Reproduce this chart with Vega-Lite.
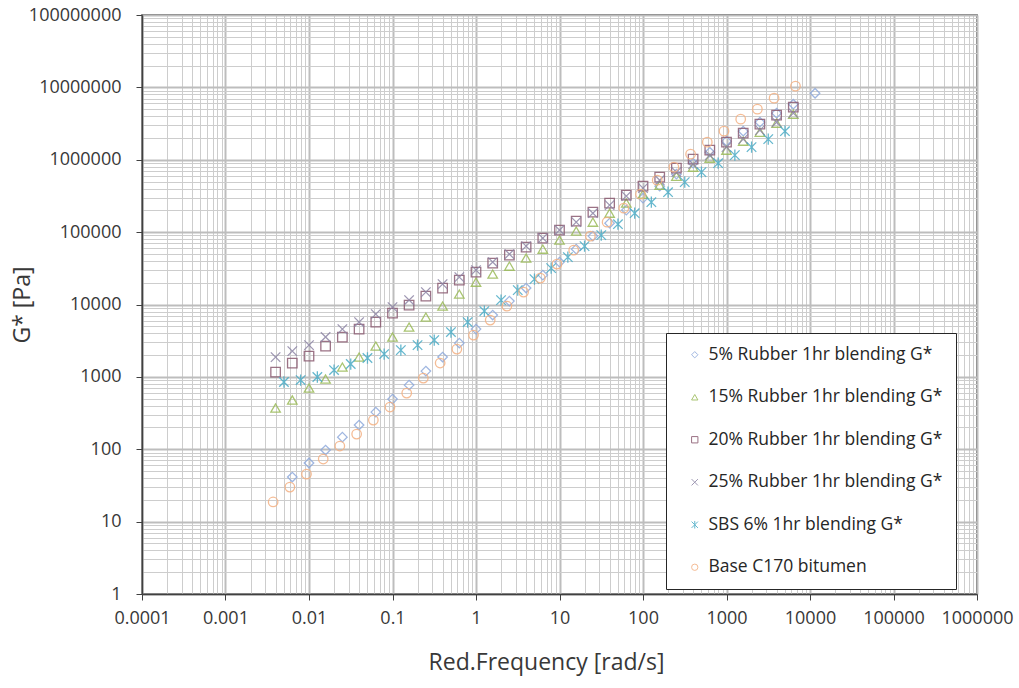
{
  "$schema": "https://vega.github.io/schema/vega-lite/v6.json",
  "width": 835,
  "height": 579,
  "autosize": {"type": "none"},
  "padding": {"left": 142, "top": 15, "right": 42, "bottom": 94},
  "background": "white",
  "config": {
    "font": "Open Sans",
    "view": {"stroke": "#404040", "strokeWidth": 1.5}
  },
  "datasets": {
    "pts": [
      {"s": "5% Rubber 1hr blending G*", "f": 0.00631, "g": 41.3},
      {"s": "5% Rubber 1hr blending G*", "f": 0.01, "g": 64.5},
      {"s": "5% Rubber 1hr blending G*", "f": 0.0158, "g": 97.5},
      {"s": "5% Rubber 1hr blending G*", "f": 0.0251, "g": 147},
      {"s": "5% Rubber 1hr blending G*", "f": 0.0398, "g": 216},
      {"s": "5% Rubber 1hr blending G*", "f": 0.0631, "g": 326},
      {"s": "5% Rubber 1hr blending G*", "f": 0.1, "g": 493},
      {"s": "5% Rubber 1hr blending G*", "f": 0.158, "g": 770},
      {"s": "5% Rubber 1hr blending G*", "f": 0.251, "g": 1202},
      {"s": "5% Rubber 1hr blending G*", "f": 0.398, "g": 1877},
      {"s": "5% Rubber 1hr blending G*", "f": 0.631, "g": 2930},
      {"s": "5% Rubber 1hr blending G*", "f": 1, "g": 4571},
      {"s": "5% Rubber 1hr blending G*", "f": 1.585, "g": 7140},
      {"s": "5% Rubber 1hr blending G*", "f": 2.512, "g": 11140},
      {"s": "5% Rubber 1hr blending G*", "f": 3.981, "g": 16860},
      {"s": "5% Rubber 1hr blending G*", "f": 6.31, "g": 25480},
      {"s": "5% Rubber 1hr blending G*", "f": 10, "g": 38530},
      {"s": "5% Rubber 1hr blending G*", "f": 15.85, "g": 58210},
      {"s": "5% Rubber 1hr blending G*", "f": 25.12, "g": 88100},
      {"s": "5% Rubber 1hr blending G*", "f": 39.81, "g": 133100},
      {"s": "5% Rubber 1hr blending G*", "f": 63.1, "g": 201400},
      {"s": "5% Rubber 1hr blending G*", "f": 100, "g": 295100},
      {"s": "5% Rubber 1hr blending G*", "f": 158.5, "g": 431500},
      {"s": "5% Rubber 1hr blending G*", "f": 251.2, "g": 632400},
      {"s": "5% Rubber 1hr blending G*", "f": 398.1, "g": 897000},
      {"s": "5% Rubber 1hr blending G*", "f": 631, "g": 1273000},
      {"s": "5% Rubber 1hr blending G*", "f": 1000, "g": 1807000},
      {"s": "5% Rubber 1hr blending G*", "f": 1585, "g": 2483000},
      {"s": "5% Rubber 1hr blending G*", "f": 2512, "g": 3304000},
      {"s": "5% Rubber 1hr blending G*", "f": 3981, "g": 4403000},
      {"s": "5% Rubber 1hr blending G*", "f": 6310, "g": 5861000},
      {"s": "5% Rubber 1hr blending G*", "f": 11500, "g": 8300000},

      {"s": "15% Rubber 1hr blending G*", "f": 0.00398, "g": 371},
      {"s": "15% Rubber 1hr blending G*", "f": 0.00631, "g": 479},
      {"s": "15% Rubber 1hr blending G*", "f": 0.01, "g": 700},
      {"s": "15% Rubber 1hr blending G*", "f": 0.0158, "g": 933},
      {"s": "15% Rubber 1hr blending G*", "f": 0.0251, "g": 1365},
      {"s": "15% Rubber 1hr blending G*", "f": 0.0398, "g": 1875},
      {"s": "15% Rubber 1hr blending G*", "f": 0.0631, "g": 2661},
      {"s": "15% Rubber 1hr blending G*", "f": 0.1, "g": 3548},
      {"s": "15% Rubber 1hr blending G*", "f": 0.158, "g": 4875},
      {"s": "15% Rubber 1hr blending G*", "f": 0.251, "g": 6699},
      {"s": "15% Rubber 1hr blending G*", "f": 0.398, "g": 9506},
      {"s": "15% Rubber 1hr blending G*", "f": 0.631, "g": 13930},
      {"s": "15% Rubber 1hr blending G*", "f": 1, "g": 20370},
      {"s": "15% Rubber 1hr blending G*", "f": 1.585, "g": 26300},
      {"s": "15% Rubber 1hr blending G*", "f": 2.512, "g": 33880},
      {"s": "15% Rubber 1hr blending G*", "f": 3.981, "g": 43750},
      {"s": "15% Rubber 1hr blending G*", "f": 6.31, "g": 58210},
      {"s": "15% Rubber 1hr blending G*", "f": 10, "g": 77620},
      {"s": "15% Rubber 1hr blending G*", "f": 15.85, "g": 103300},
      {"s": "15% Rubber 1hr blending G*", "f": 25.12, "g": 137400},
      {"s": "15% Rubber 1hr blending G*", "f": 39.81, "g": 182800},
      {"s": "15% Rubber 1hr blending G*", "f": 63.1, "g": 251800},
      {"s": "15% Rubber 1hr blending G*", "f": 100, "g": 335000},
      {"s": "15% Rubber 1hr blending G*", "f": 158.5, "g": 445700},
      {"s": "15% Rubber 1hr blending G*", "f": 251.2, "g": 592900},
      {"s": "15% Rubber 1hr blending G*", "f": 398.1, "g": 790700},
      {"s": "15% Rubber 1hr blending G*", "f": 631, "g": 1052000},
      {"s": "15% Rubber 1hr blending G*", "f": 1000, "g": 1358000},
      {"s": "15% Rubber 1hr blending G*", "f": 1585, "g": 1807000},
      {"s": "15% Rubber 1hr blending G*", "f": 2512, "g": 2404000},
      {"s": "15% Rubber 1hr blending G*", "f": 3981, "g": 3206000},
      {"s": "15% Rubber 1hr blending G*", "f": 6310, "g": 4266000},

      {"s": "20% Rubber 1hr blending G*", "f": 0.00398, "g": 1164},
      {"s": "20% Rubber 1hr blending G*", "f": 0.00631, "g": 1552},
      {"s": "20% Rubber 1hr blending G*", "f": 0.01, "g": 1936},
      {"s": "20% Rubber 1hr blending G*", "f": 0.0158, "g": 2661},
      {"s": "20% Rubber 1hr blending G*", "f": 0.0251, "g": 3548},
      {"s": "20% Rubber 1hr blending G*", "f": 0.0398, "g": 4571},
      {"s": "20% Rubber 1hr blending G*", "f": 0.0631, "g": 5715},
      {"s": "20% Rubber 1hr blending G*", "f": 0.1, "g": 7603},
      {"s": "20% Rubber 1hr blending G*", "f": 0.158, "g": 9817},
      {"s": "20% Rubber 1hr blending G*", "f": 0.251, "g": 13060},
      {"s": "20% Rubber 1hr blending G*", "f": 0.398, "g": 16870},
      {"s": "20% Rubber 1hr blending G*", "f": 0.631, "g": 21730},
      {"s": "20% Rubber 1hr blending G*", "f": 1, "g": 28050},
      {"s": "20% Rubber 1hr blending G*", "f": 1.585, "g": 37330},
      {"s": "20% Rubber 1hr blending G*", "f": 2.512, "g": 48080},
      {"s": "20% Rubber 1hr blending G*", "f": 3.981, "g": 62090},
      {"s": "20% Rubber 1hr blending G*", "f": 6.31, "g": 82600},
      {"s": "20% Rubber 1hr blending G*", "f": 10, "g": 106700},
      {"s": "20% Rubber 1hr blending G*", "f": 15.85, "g": 141900},
      {"s": "20% Rubber 1hr blending G*", "f": 25.12, "g": 188800},
      {"s": "20% Rubber 1hr blending G*", "f": 39.81, "g": 251800},
      {"s": "20% Rubber 1hr blending G*", "f": 63.1, "g": 324300},
      {"s": "20% Rubber 1hr blending G*", "f": 100, "g": 431500},
      {"s": "20% Rubber 1hr blending G*", "f": 158.5, "g": 575400},
      {"s": "20% Rubber 1hr blending G*", "f": 251.2, "g": 765600},
      {"s": "20% Rubber 1hr blending G*", "f": 398.1, "g": 1018000},
      {"s": "20% Rubber 1hr blending G*", "f": 631, "g": 1358000},
      {"s": "20% Rubber 1hr blending G*", "f": 1000, "g": 1750000},
      {"s": "20% Rubber 1hr blending G*", "f": 1585, "g": 2328000},
      {"s": "20% Rubber 1hr blending G*", "f": 2512, "g": 3105000},
      {"s": "20% Rubber 1hr blending G*", "f": 3981, "g": 4130000},
      {"s": "20% Rubber 1hr blending G*", "f": 6310, "g": 5333000},

      {"s": "25% Rubber 1hr blending G*", "f": 0.00398, "g": 1875},
      {"s": "25% Rubber 1hr blending G*", "f": 0.00631, "g": 2270},
      {"s": "25% Rubber 1hr blending G*", "f": 0.01, "g": 2748},
      {"s": "25% Rubber 1hr blending G*", "f": 0.0158, "g": 3548},
      {"s": "25% Rubber 1hr blending G*", "f": 0.0251, "g": 4571},
      {"s": "25% Rubber 1hr blending G*", "f": 0.0398, "g": 5715},
      {"s": "25% Rubber 1hr blending G*", "f": 0.0631, "g": 7362},
      {"s": "25% Rubber 1hr blending G*", "f": 0.1, "g": 9204},
      {"s": "25% Rubber 1hr blending G*", "f": 0.158, "g": 11510},
      {"s": "25% Rubber 1hr blending G*", "f": 0.251, "g": 14830},
      {"s": "25% Rubber 1hr blending G*", "f": 0.398, "g": 19140},
      {"s": "25% Rubber 1hr blending G*", "f": 0.631, "g": 23880},
      {"s": "25% Rubber 1hr blending G*", "f": 1, "g": 29850},
      {"s": "25% Rubber 1hr blending G*", "f": 1.585, "g": 38550},
      {"s": "25% Rubber 1hr blending G*", "f": 2.512, "g": 49660},
      {"s": "25% Rubber 1hr blending G*", "f": 3.981, "g": 64120},
      {"s": "25% Rubber 1hr blending G*", "f": 6.31, "g": 82600},
      {"s": "25% Rubber 1hr blending G*", "f": 10, "g": 106700},
      {"s": "25% Rubber 1hr blending G*", "f": 15.85, "g": 137400},
      {"s": "25% Rubber 1hr blending G*", "f": 25.12, "g": 182800},
      {"s": "25% Rubber 1hr blending G*", "f": 39.81, "g": 236000},
      {"s": "25% Rubber 1hr blending G*", "f": 63.1, "g": 314100},
      {"s": "25% Rubber 1hr blending G*", "f": 100, "g": 405500},
      {"s": "25% Rubber 1hr blending G*", "f": 158.5, "g": 522400},
      {"s": "25% Rubber 1hr blending G*", "f": 251.2, "g": 674500},
      {"s": "25% Rubber 1hr blending G*", "f": 398.1, "g": 868900},
      {"s": "25% Rubber 1hr blending G*", "f": 631, "g": 1159000},
      {"s": "25% Rubber 1hr blending G*", "f": 1000, "g": 1493000},
      {"s": "25% Rubber 1hr blending G*", "f": 1585, "g": 1928000},
      {"s": "25% Rubber 1hr blending G*", "f": 2512, "g": 2564000},
      {"s": "25% Rubber 1hr blending G*", "f": 3981, "g": 3304000},
      {"s": "25% Rubber 1hr blending G*", "f": 6310, "g": 4406000},

      {"s": "SBS 6% 1hr blending G*", "f": 0.00501, "g": 848},
      {"s": "SBS 6% 1hr blending G*", "f": 0.00794, "g": 903},
      {"s": "SBS 6% 1hr blending G*", "f": 0.01259, "g": 994},
      {"s": "SBS 6% 1hr blending G*", "f": 0.01995, "g": 1241},
      {"s": "SBS 6% 1hr blending G*", "f": 0.03162, "g": 1503},
      {"s": "SBS 6% 1hr blending G*", "f": 0.05012, "g": 1820},
      {"s": "SBS 6% 1hr blending G*", "f": 0.07943, "g": 2065},
      {"s": "SBS 6% 1hr blending G*", "f": 0.1259, "g": 2344},
      {"s": "SBS 6% 1hr blending G*", "f": 0.1995, "g": 2748},
      {"s": "SBS 6% 1hr blending G*", "f": 0.3162, "g": 3223},
      {"s": "SBS 6% 1hr blending G*", "f": 0.5012, "g": 4157},
      {"s": "SBS 6% 1hr blending G*", "f": 0.7943, "g": 5715},
      {"s": "SBS 6% 1hr blending G*", "f": 1.259, "g": 8110},
      {"s": "SBS 6% 1hr blending G*", "f": 1.995, "g": 11500},
      {"s": "SBS 6% 1hr blending G*", "f": 3.162, "g": 15810},
      {"s": "SBS 6% 1hr blending G*", "f": 5.012, "g": 22440},
      {"s": "SBS 6% 1hr blending G*", "f": 7.943, "g": 31840},
      {"s": "SBS 6% 1hr blending G*", "f": 12.59, "g": 45170},
      {"s": "SBS 6% 1hr blending G*", "f": 19.95, "g": 64090},
      {"s": "SBS 6% 1hr blending G*", "f": 31.62, "g": 90940},
      {"s": "SBS 6% 1hr blending G*", "f": 50.12, "g": 128800},
      {"s": "SBS 6% 1hr blending G*", "f": 79.43, "g": 182800},
      {"s": "SBS 6% 1hr blending G*", "f": 125.9, "g": 259400},
      {"s": "SBS 6% 1hr blending G*", "f": 199.5, "g": 356600},
      {"s": "SBS 6% 1hr blending G*", "f": 316.2, "g": 490800},
      {"s": "SBS 6% 1hr blending G*", "f": 501.2, "g": 674500},
      {"s": "SBS 6% 1hr blending G*", "f": 794.3, "g": 897000},
      {"s": "SBS 6% 1hr blending G*", "f": 1259, "g": 1158000},
      {"s": "SBS 6% 1hr blending G*", "f": 1995, "g": 1493000},
      {"s": "SBS 6% 1hr blending G*", "f": 3162, "g": 1926000},
      {"s": "SBS 6% 1hr blending G*", "f": 5012, "g": 2483000},

      {"s": "Base C170 bitumen", "f": 0.00372, "g": 18.7},
      {"s": "Base C170 bitumen", "f": 0.0059, "g": 30.0},
      {"s": "Base C170 bitumen", "f": 0.00933, "g": 45.4},
      {"s": "Base C170 bitumen", "f": 0.0148, "g": 73.2},
      {"s": "Base C170 bitumen", "f": 0.0234, "g": 110.7},
      {"s": "Base C170 bitumen", "f": 0.0372, "g": 162},
      {"s": "Base C170 bitumen", "f": 0.059, "g": 253},
      {"s": "Base C170 bitumen", "f": 0.0933, "g": 383},
      {"s": "Base C170 bitumen", "f": 0.148, "g": 597},
      {"s": "Base C170 bitumen", "f": 0.234, "g": 962},
      {"s": "Base C170 bitumen", "f": 0.372, "g": 1552},
      {"s": "Base C170 bitumen", "f": 0.59, "g": 2421},
      {"s": "Base C170 bitumen", "f": 0.933, "g": 3779},
      {"s": "Base C170 bitumen", "f": 1.479, "g": 6090},
      {"s": "Base C170 bitumen", "f": 2.344, "g": 9500},
      {"s": "Base C170 bitumen", "f": 3.715, "g": 14830},
      {"s": "Base C170 bitumen", "f": 5.888, "g": 23170},
      {"s": "Base C170 bitumen", "f": 9.333, "g": 36130},
      {"s": "Base C170 bitumen", "f": 14.79, "g": 56360},
      {"s": "Base C170 bitumen", "f": 23.44, "g": 88100},
      {"s": "Base C170 bitumen", "f": 37.15, "g": 137400},
      {"s": "Base C170 bitumen", "f": 58.88, "g": 214400},
      {"s": "Base C170 bitumen", "f": 93.33, "g": 334700},
      {"s": "Base C170 bitumen", "f": 147.9, "g": 522400},
      {"s": "Base C170 bitumen", "f": 234.4, "g": 790000},
      {"s": "Base C170 bitumen", "f": 371.5, "g": 1194000},
      {"s": "Base C170 bitumen", "f": 588.8, "g": 1750000},
      {"s": "Base C170 bitumen", "f": 933.3, "g": 2483000},
      {"s": "Base C170 bitumen", "f": 1479, "g": 3640000},
      {"s": "Base C170 bitumen", "f": 2344, "g": 5000000},
      {"s": "Base C170 bitumen", "f": 3715, "g": 7100000},
      {"s": "Base C170 bitumen", "f": 6700, "g": 10400000}
    ]
  },
  "data": {"name": "pts"},
  "mark": {"type": "point", "filled": false, "strokeWidth": 1.3, "size": 90, "opacity": 0.85},
  "encoding": {
    "x": {
      "field": "f",
      "type": "quantitative",
      "scale": {"type": "log", "domain": [0.0001, 1000000], "nice": false},
      "axis": {
        "title": "Red.Frequency [rad/s]",
        "values": [0.0001,0.0002,0.0003,0.0004,0.0005,0.0006,0.0007,0.0008,0.0009,0.001,0.002,0.003,0.004,0.005,0.006,0.007,0.008,0.009,0.01,0.02,0.03,0.04,0.05,0.06,0.07,0.08,0.09,0.1,0.2,0.3,0.4,0.5,0.6,0.7,0.8,0.9,1,2,3,4,5,6,7,8,9,10,20,30,40,50,60,70,80,90,100,200,300,400,500,600,700,800,900,1000,2000,3000,4000,5000,6000,7000,8000,9000,10000,20000,30000,40000,50000,60000,70000,80000,90000,100000,200000,300000,400000,500000,600000,700000,800000,900000,1000000],
        "labelExpr": "abs(log(datum.value)/LN10 - round(log(datum.value)/LN10)) < 0.001 ? format(datum.value, '~f') : ''",
        "labelFlush": false,
        "labelOverlap": false,
        "labelFontSize": 18,
        "labelColor": "#383838",
        "labelPadding": 9,
        "tickSize": 6,
        "tickColor": "#404040",
        "tickOpacity": {"condition": {"test": "abs(log(datum.value)/LN10 - round(log(datum.value)/LN10)) < 0.001", "value": 1}, "value": 0},
        "grid": true,
        "gridColor": {"condition": {"test": "abs(log(datum.value)/LN10 - round(log(datum.value)/LN10)) < 0.001", "value": "#bdbdbd"}, "value": "#cdcdcd"},
        "gridWidth": {"condition": {"test": "abs(log(datum.value)/LN10 - round(log(datum.value)/LN10)) < 0.001", "value": 2}, "value": 1},
        "domainColor": "#404040",
        "domainWidth": 1.5,
        "titleFontSize": 23,
        "titleFontWeight": "normal",
        "titleColor": "#383838",
        "titlePadding": 24,
        "titleX": 404
      }
    },
    "y": {
      "field": "g",
      "type": "quantitative",
      "scale": {"type": "log", "domain": [1, 100000000], "nice": false},
      "axis": {
        "title": "G* [Pa]",
        "values": [1,2,3,4,5,6,7,8,9,10,20,30,40,50,60,70,80,90,100,200,300,400,500,600,700,800,900,1000,2000,3000,4000,5000,6000,7000,8000,9000,10000,20000,30000,40000,50000,60000,70000,80000,90000,100000,200000,300000,400000,500000,600000,700000,800000,900000,1000000,2000000,3000000,4000000,5000000,6000000,7000000,8000000,9000000,10000000,20000000,30000000,40000000,50000000,60000000,70000000,80000000,90000000,100000000],
        "labelExpr": "abs(log(datum.value)/LN10 - round(log(datum.value)/LN10)) < 0.001 ? format(datum.value, '~f') : ''",
        "labelFlush": false,
        "labelOverlap": false,
        "labelFontSize": 18,
        "labelColor": "#383838",
        "labelPadding": 15,
        "tickSize": 6,
        "tickColor": "#404040",
        "tickOpacity": {"condition": {"test": "abs(log(datum.value)/LN10 - round(log(datum.value)/LN10)) < 0.001", "value": 1}, "value": 0},
        "grid": true,
        "gridColor": {"condition": {"test": "abs(log(datum.value)/LN10 - round(log(datum.value)/LN10)) < 0.001", "value": "#bdbdbd"}, "value": "#cdcdcd"},
        "gridWidth": {"condition": {"test": "abs(log(datum.value)/LN10 - round(log(datum.value)/LN10)) < 0.001", "value": 2}, "value": 1},
        "domainColor": "#404040",
        "domainWidth": 1.5,
        "titleFontSize": 23,
        "titleFontWeight": "normal",
        "titleColor": "#383838",
        "titlePadding": -6
      }
    },
    "color": {
      "field": "s",
      "type": "nominal",
      "scale": {
        "domain": ["5% Rubber 1hr blending G*", "15% Rubber 1hr blending G*", "20% Rubber 1hr blending G*", "25% Rubber 1hr blending G*", "SBS 6% 1hr blending G*", "Base C170 bitumen"],
        "range": ["#8faadc", "#9bbb59", "#8a5a70", "#8e86a6", "#4bacc6", "#f4b183"]
      },
      "legend": {
        "title": null,
        "orient": "none",
        "legendX": 524,
        "legendY": 318,
        "strokeColor": "#262626",
        "fillColor": "white",
        "padding": 13,
        "rowPadding": 23.5,
        "labelFont": "Open Sans",
        "labelFontSize": 17.5,
        "labelColor": "#262626",
        "labelLimit": 400,
        "labelOffset": 5,
        "symbolOffset": 7,
        "symbolSize": 40,
        "symbolStrokeWidth": 1
      }
    },
    "shape": {
      "field": "s",
      "type": "nominal",
      "scale": {
        "domain": ["5% Rubber 1hr blending G*", "15% Rubber 1hr blending G*", "20% Rubber 1hr blending G*", "25% Rubber 1hr blending G*", "SBS 6% 1hr blending G*", "Base C170 bitumen"],
        "range": ["diamond", "triangle-up", "square", "M-1,-1L1,1M-1,1L1,-1", "M-1,-1L1,1M-1,1L1,-1M0,-1.2L0,1.2", "circle"]
      },
      "legend": {
        "title": null,
        "orient": "none",
        "legendX": 524,
        "legendY": 318,
        "strokeColor": "#262626",
        "fillColor": "white",
        "padding": 13,
        "rowPadding": 23.5,
        "labelFont": "Open Sans",
        "labelFontSize": 17.5,
        "labelColor": "#262626",
        "labelLimit": 400,
        "labelOffset": 5,
        "symbolOffset": 7,
        "symbolSize": 40,
        "symbolStrokeWidth": 1
      }
    }
  }
}
